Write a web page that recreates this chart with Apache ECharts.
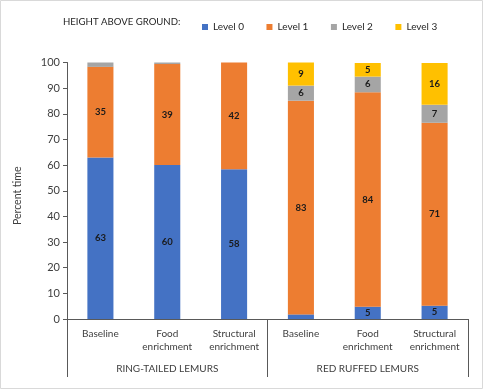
<!DOCTYPE html>
<html><head><meta charset="utf-8">
<script src="https://cdn.jsdelivr.net/npm/echarts@6/dist/echarts.min.js"></script>
<style>html,body{margin:0;padding:0;background:#fff}#c{width:483px;height:389px}</style>
</head><body><div id="c"></div>
<script>
const categories = ['Baseline', 'Food\nenrichment', 'Structural\nenrichment', 'Baseline', 'Food\nenrichment', 'Structural\nenrichment'];
const groups = ['RING-TAILED LEMURS', 'RED RUFFED LEMURS'];
const level0 = [63, 60, 58.4, 1.8, 4.8, 5.2];
const level1 = [35.3, 39.4, 41.6, 83.3, 83.6, 71.3];
const level2 = [1.7, 0.6, 0, 5.9, 6.1, 7.0];
const level3 = [0, 0, 0, 9.0, 5.3, 16.3];
const seriesNames = ['Level 0', 'Level 1', 'Level 2', 'Level 3'];
const colors = ['#4472C4', '#ED7D31', '#A5A5A5', '#FFC000'];
const yTicks = [0, 10, 20, 30, 40, 50, 60, 70, 80, 90, 100];

const FONT = 'Lato';
const chart = echarts.init(document.getElementById('c'));
const mk = (name, data, i) => ({
  name, type: 'bar', stack: 'all', data, barWidth: '39%',
  itemStyle: { color: colors[i] },
  label: {
    show: true, position: 'inside', fontFamily: FONT, fontSize: 9.5, fontWeight: 'bold', color: '#1a1a1a',
    formatter: p => p.value >= 3 ? String(Math.round(p.value)) : ''
  }
});
chart.setOption({
  animation: false,
  textStyle: { fontFamily: FONT },
  graphic: [
    { type: 'rect', shape: { x: 0.5, y: 0.5, width: 482, height: 388 }, style: { fill: 'none', stroke: '#d9d9d9', lineWidth: 1 }, silent: true },
    { type: 'text', left: 63, top: 17, style: { text: 'HEIGHT ABOVE GROUND:', fontFamily: FONT, fontSize: 9.6, fill: '#262626' } }
  ],
  legend: {
    left: 197, top: 17, icon: 'rect', itemWidth: 6, itemHeight: 6, itemGap: 22.5,
    textStyle: { fontFamily: FONT, fontSize: 10, color: '#262626' },
    data: seriesNames
  },
  grid: { left: 67, right: 15, top: 62.5, bottom: 70, containLabel: false },
  xAxis: [
    {
      type: 'category', data: categories, position: 'bottom',
      axisLine: { show: true, lineStyle: { color: '#595959', width: 1 } },
      axisTick: { show: false },
      axisLabel: { interval: 0, fontFamily: FONT, fontSize: 10, color: '#404040', margin: 8, lineHeight: 13.5 }
    },
    {
      type: 'category', data: groups, position: 'bottom',
      axisLine: { show: false },
      axisTick: { show: true, length: 58, lineStyle: { color: '#595959' } },
      axisLabel: { interval: 0, fontFamily: FONT, fontSize: 10, color: '#404040', margin: 45 }
    }
  ],
  yAxis: {
    type: 'value', min: 0, max: 100, interval: 10,
    name: 'Percent time', nameLocation: 'middle', nameGap: 44, nameRotate: 90,
    nameTextStyle: { fontFamily: FONT, fontSize: 10.5, color: '#404040', padding: [0, 10, 0, 0] },
    axisLine: { show: true, lineStyle: { color: '#595959' } },
    axisTick: { show: true, length: 4, lineStyle: { color: '#595959' } },
    splitLine: { show: false },
    axisLabel: { fontFamily: FONT, fontSize: 11, color: '#404040', margin: 7,
      formatter: v => yTicks.includes(v) ? String(v) : '' }
  },
  series: [mk('Level 0', level0, 0), mk('Level 1', level1, 1), mk('Level 2', level2, 2), mk('Level 3', level3, 3)]
});
</script></body></html>
